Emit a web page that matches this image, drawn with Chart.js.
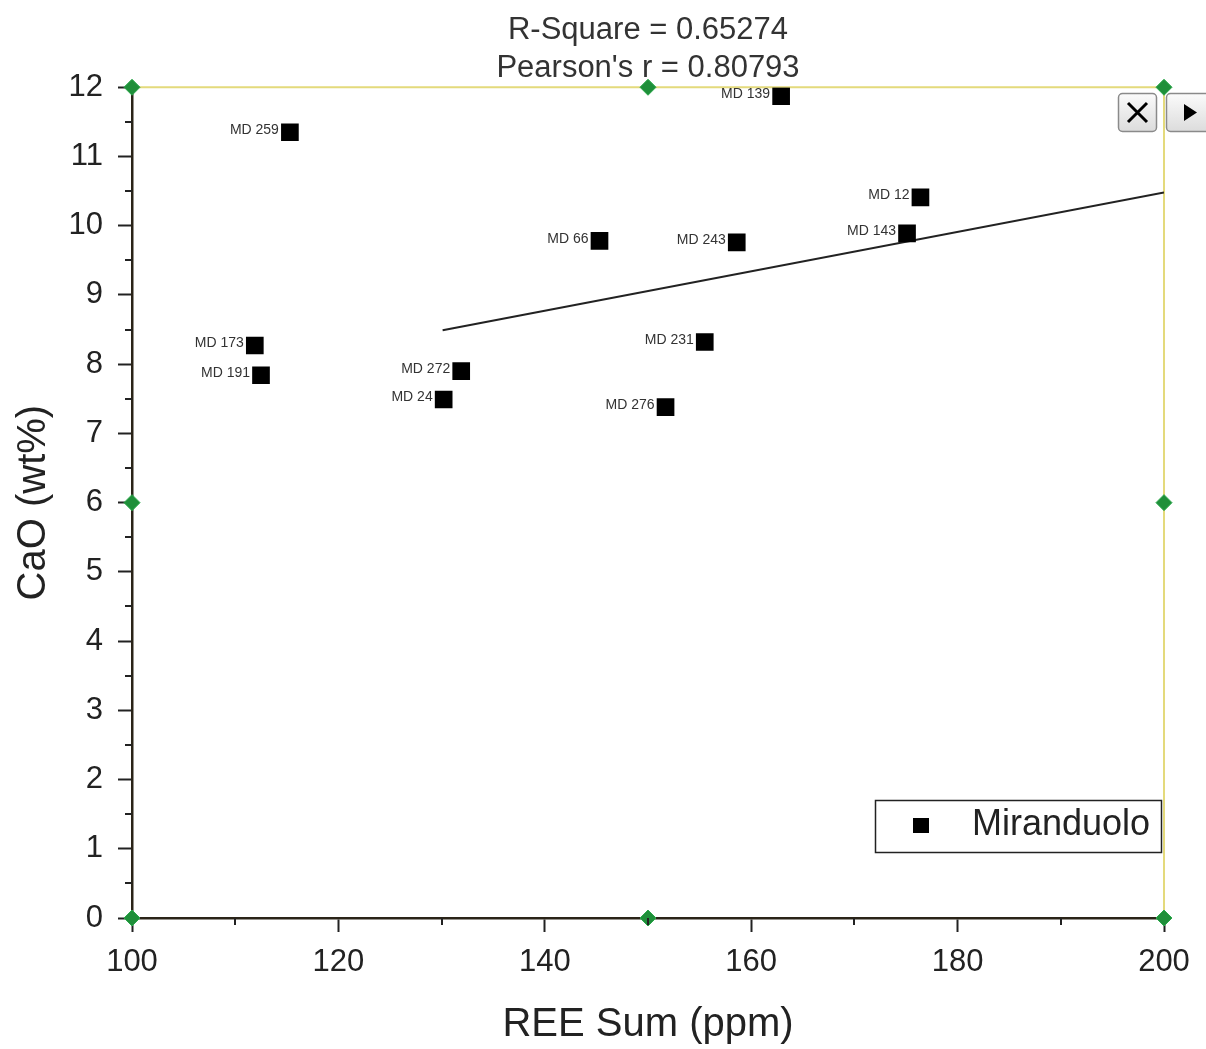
<!DOCTYPE html>
<html>
<head>
<meta charset="utf-8">
<script src="https://cdn.jsdelivr.net/npm/chart.js@4.4.1/dist/chart.umd.min.js"></script>
<style>
  html, body { margin: 0; padding: 0; background: #ffffff; }
  #wrap { position: relative; width: 1206px; height: 1049px; }
</style>
</head>
<body>
<div id="wrap"><canvas id="c"></canvas></div>
<script>
// ---- data ----
const sampleLabels = ['MD 259', 'MD 139', 'MD 12', 'MD 143', 'MD 66', 'MD 243', 'MD 173', 'MD 191', 'MD 272', 'MD 24', 'MD 231', 'MD 276'];
const reeSum = [115.3, 162.9, 176.4, 175.1, 145.3, 158.6, 111.9, 112.5, 131.9, 130.2, 155.5, 151.7];
const caoWt = [11.35, 11.87, 10.41, 9.89, 9.78, 9.76, 8.27, 7.84, 7.90, 7.49, 8.32, 7.38];
const fitX = [130.1, 200];
const fitY = [8.49, 10.48];
const handleX = [100, 150, 200, 100, 200, 100, 150, 200];
const handleY = [12, 12, 12, 6, 6, 0, 0, 0];
const titleLines = ['R-Square = 0.65274', "Pearson's r = 0.80793"];
const seriesName = 'Miranduolo';
const xTitle = 'REE Sum (ppm)';
const yTitle = 'CaO (wt%)';

const FONT = 'Arial, "Liberation Sans", sans-serif';

const minorTicks = {
  id: 'minorTicks',
  afterDraw(chart) {
    const { ctx, scales: { x, y }, chartArea: a } = chart;
    ctx.save();
    ctx.strokeStyle = '#222';
    ctx.lineWidth = 2;
    for (let v = 110; v < 200; v += 20) {
      const px = Math.round(x.getPixelForValue(v));
      ctx.beginPath(); ctx.moveTo(px, a.bottom); ctx.lineTo(px, a.bottom + 7); ctx.stroke();
    }
    for (let v = 0.5; v < 12; v += 1) {
      const py = Math.round(y.getPixelForValue(v));
      ctx.beginPath(); ctx.moveTo(a.left - 7, py); ctx.lineTo(a.left, py); ctx.stroke();
    }
    ctx.restore();
  }
};

const frame = {
  id: 'frame',
  beforeDatasetsDraw(chart) {
    const { ctx, chartArea: a } = chart;
    ctx.save();
    ctx.strokeStyle = '#e4da7c';
    ctx.lineWidth = 2;
    ctx.beginPath();
    ctx.moveTo(a.left, a.top); ctx.lineTo(a.right, a.top); ctx.lineTo(a.right, a.bottom);
    ctx.stroke();
    ctx.restore();
  }
};

const pointLabels = {
  id: 'pointLabels',
  afterDatasetsDraw(chart) {
    const { ctx } = chart;
    const meta = chart.getDatasetMeta(0);
    ctx.save();
    ctx.font = '14px ' + FONT;
    ctx.fillStyle = '#333';
    ctx.textAlign = 'right';
    ctx.textBaseline = 'middle';
    meta.data.forEach((pt, i) => {
      ctx.fillText(sampleLabels[i], pt.x - 11, pt.y - 2);
    });
    ctx.restore();
  }
};

const boxLegend = {
  id: 'boxLegend',
  afterDraw(chart) {
    const { ctx } = chart;
    ctx.save();
    ctx.fillStyle = '#fff';
    ctx.fillRect(875, 800, 286, 52);
    ctx.strokeStyle = '#222';
    ctx.lineWidth = 1.5;
    ctx.strokeRect(875.5, 800.5, 286, 52);
    ctx.fillStyle = '#000';
    ctx.fillRect(913, 818, 16, 15);
    ctx.font = '36px ' + FONT;
    ctx.fillStyle = '#222';
    ctx.textAlign = 'left';
    ctx.textBaseline = 'middle';
    ctx.fillText(chart.data.datasets[0].label, 972, 825);
    ctx.restore();
  }
};

const uiButtons = {
  id: 'uiButtons',
  afterDraw(chart) {
    const { ctx } = chart;
    ctx.save();
    const box = (x, y, w, h) => {
      ctx.beginPath();
      ctx.roundRect(x, y, w, h, 4);
      const g = ctx.createLinearGradient(0, y, 0, y + h);
      g.addColorStop(0, '#fbfbfb'); g.addColorStop(1, '#dcdcdc');
      ctx.fillStyle = g; ctx.fill();
      ctx.strokeStyle = '#8a8a8a'; ctx.lineWidth = 1.5; ctx.stroke();
    };
    box(1118.5, 93.5, 38, 38);
    box(1166.5, 93.5, 45, 38);
    ctx.strokeStyle = '#000'; ctx.lineWidth = 3;
    ctx.beginPath();
    ctx.moveTo(1128, 103); ctx.lineTo(1147, 122);
    ctx.moveTo(1147, 103); ctx.lineTo(1128, 122);
    ctx.stroke();
    ctx.fillStyle = '#000';
    ctx.beginPath();
    ctx.moveTo(1184, 104); ctx.lineTo(1197, 112.5); ctx.lineTo(1184, 121); ctx.closePath();
    ctx.fill();
    ctx.restore();
  }
};

new Chart(document.getElementById('c'), {
  type: 'scatter',
  data: {
    datasets: [
      {
        label: seriesName,
        data: reeSum.map((v, i) => ({ x: v, y: caoWt[i] })),
        pointStyle: 'rect',
        pointRadius: 12.5,
        backgroundColor: '#000',
        borderWidth: 0,
        order: 1
      },
      {
        label: 'fit',
        data: fitX.map((v, i) => ({ x: v, y: fitY[i] })),
        showLine: true,
        borderColor: '#222',
        borderWidth: 2,
        pointRadius: 0,
        order: 2
      },
      {
        label: 'handles',
        data: handleX.map((v, i) => ({ x: v, y: handleY[i] })),
        pointStyle: 'rectRot',
        pointRadius: 8,
        backgroundColor: '#1f8f3a',
        borderColor: '#2aa84a',
        borderWidth: 1,
        clip: false,
        order: 0
      }
    ]
  },
  options: {
    responsive: true,
    maintainAspectRatio: false,
    devicePixelRatio: 1,
    animation: false,
    layout: { padding: { top: 0, right: 42, left: 0, bottom: 0 } },
    plugins: {
      legend: { display: false },
      tooltip: { enabled: false },
      title: {
        display: true,
        fullSize: false,
        text: titleLines,
        color: '#333',
        font: { family: FONT, size: 31, weight: 'normal', lineHeight: 1.23 },
        padding: { top: 11, bottom: 0 }
      }
    },
    scales: {
      x: {
        type: 'linear', min: 100, max: 200,
        ticks: { stepSize: 20, color: '#222', padding: 12, font: { family: FONT, size: 31 } },
        grid: { drawOnChartArea: false, drawTicks: true, tickLength: 14, tickWidth: 2, tickColor: '#222' },
        border: { display: true, color: '#2a2418', width: 2.5 },
        title: { display: true, text: xTitle, color: '#222', font: { family: FONT, size: 40 }, padding: { top: 0, bottom: 0 } },
        afterFit(s) { s.height = 131; }
      },
      y: {
        type: 'linear', min: 0, max: 12,
        ticks: { stepSize: 1, color: '#222', padding: 15, font: { family: FONT, size: 31 } },
        grid: { drawOnChartArea: false, drawTicks: true, tickLength: 14, tickWidth: 2, tickColor: '#222' },
        border: { display: true, color: '#2a2418', width: 2.5 },
        title: { display: true, text: yTitle, color: '#222', font: { family: FONT, size: 40 }, padding: { top: 10, bottom: 0 } },
        afterFit(s) { s.width = 132; }
      }
    }
  },
  plugins: [frame, minorTicks, pointLabels, boxLegend, uiButtons]
});
</script>
</body>
</html>
